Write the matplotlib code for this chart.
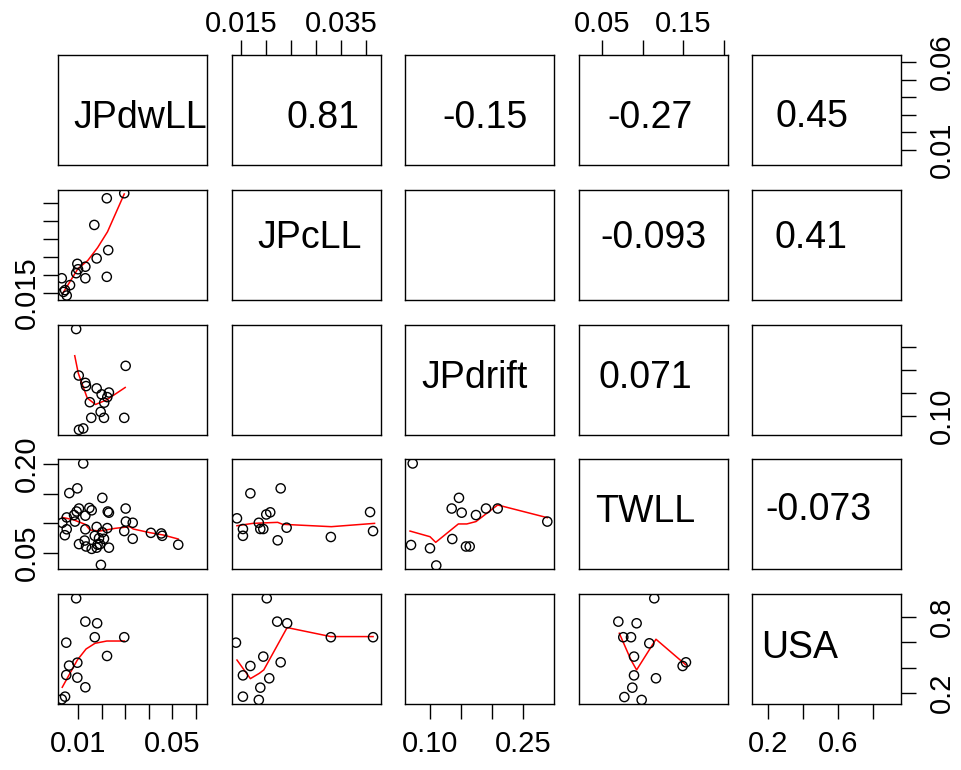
import matplotlib
matplotlib.use("Agg")
import matplotlib.pyplot as plt

plt.rcParams["font.family"] = ["Liberation Sans", "DejaVu Sans"]

VARS = ["JPdwLL", "JPcLL", "JPdrift", "TWLL", "USA"]

# correlation text of the upper panels, (row, col) -> label
COR = {(0, 1): "0.81", (0, 2): "-0.15", (0, 3): "-0.27", (0, 4): "0.45",
       (1, 3): "-0.093", (1, 4): "0.41", (2, 3): "0.071", (3, 4): "-0.073"}

# lower panels: scatter points (x, y) and the red smoother
cll_dwll_x = [0.0296, 0.0222, 0.0169, 0.0228, 0.0179, 0.0097, 0.0131, 0.0100,
              0.0092, 0.0222, 0.0131, 0.0031, 0.0066, 0.0045, 0.0038, 0.0052]
cll_dwll_y = [0.0427, 0.0413, 0.0339, 0.0269, 0.0246, 0.0231, 0.0223, 0.0216,
              0.0205, 0.0195, 0.0191, 0.0191, 0.0172, 0.0158, 0.0153, 0.0143]
cll_dwll_sx = [0.0036, 0.0100, 0.0141, 0.0183, 0.0225, 0.0296]
cll_dwll_sy = [0.0150, 0.0218, 0.0240, 0.0276, 0.0320, 0.0425]

drift_dwll_x = [0.0092, 0.0302, 0.0103, 0.0131, 0.0134, 0.0179, 0.0200, 0.0231, 0.0224,
                0.0150, 0.0211, 0.0196, 0.0156, 0.0210, 0.0296, 0.0104, 0.0122]
drift_dwll_y = [0.289, 0.209, 0.188, 0.172, 0.165, 0.160, 0.147, 0.151, 0.141,
                0.130, 0.129, 0.109, 0.096, 0.096, 0.096, 0.070, 0.073]
drift_dwll_sx = [0.0086, 0.0101, 0.0139, 0.0174, 0.0221, 0.0300]
drift_dwll_sy = [0.231, 0.193, 0.139, 0.125, 0.135, 0.162]

tw_dwll_x = [0.0122, 0.0097, 0.0063, 0.0203, 0.0104, 0.0148, 0.0158, 0.0094, 0.0083,
             0.0131, 0.0226, 0.0231, 0.0302, 0.0033, 0.0052, 0.0087, 0.0179, 0.0131,
             0.0052, 0.0044, 0.0303, 0.0332, 0.0224, 0.0296, 0.0409, 0.0453, 0.0457,
             0.0525, 0.0203, 0.0171, 0.0189, 0.0210, 0.0332, 0.0104, 0.0134, 0.0158,
             0.0183, 0.0193, 0.0231, 0.0179, 0.0197, 0.0128]
tw_dwll_y = [0.201, 0.159, 0.151, 0.143, 0.125, 0.126, 0.122, 0.120, 0.114,
             0.113, 0.120, 0.118, 0.125, 0.101, 0.110, 0.103, 0.094, 0.090,
             0.090, 0.080, 0.103, 0.101, 0.092, 0.087, 0.084, 0.083, 0.079,
             0.064, 0.085, 0.079, 0.075, 0.074, 0.074, 0.065, 0.061, 0.057,
             0.064, 0.065, 0.059, 0.059, 0.030, 0.071]
tw_dwll_sx = [0.0033, 0.0052, 0.0083, 0.0108, 0.0131, 0.0151, 0.0193, 0.0257,
              0.0320, 0.0334, 0.0405, 0.0461, 0.0525]
tw_dwll_sy = [0.110, 0.1085, 0.1057, 0.1017, 0.0983, 0.0888, 0.0871, 0.0916,
              0.0944, 0.0905, 0.0843, 0.0804, 0.0736]

usa_dwll_x = [0.0092, 0.0131, 0.0181, 0.0171, 0.0296, 0.0050, 0.0223,
              0.0097, 0.0062, 0.0050, 0.0097, 0.0131, 0.0045, 0.0031]
usa_dwll_y = [0.947, 0.763, 0.750, 0.640, 0.640, 0.597, 0.492,
              0.439, 0.416, 0.342, 0.321, 0.245, 0.171, 0.150]
usa_dwll_sx = [0.0033, 0.0097, 0.0134, 0.0172, 0.0222, 0.0296]
usa_dwll_sy = [0.245, 0.460, 0.547, 0.592, 0.610, 0.610]

tw_cll_x = [0.0141, 0.0168, 0.0229, 0.0200, 0.0208, 0.0185, 0.0153, 0.0153,
            0.0188, 0.0194, 0.0241, 0.0223, 0.0330, 0.0409, 0.0415]
tw_cll_y = [0.1085, 0.1506, 0.159, 0.115, 0.1186, 0.101, 0.0905, 0.079,
            0.0905, 0.0905, 0.0927, 0.0714, 0.077, 0.119, 0.087]
tw_cll_sx = [0.0141, 0.0173, 0.0223, 0.0233, 0.0331, 0.0418]
tw_cll_sy = [0.096, 0.100, 0.1017, 0.0984, 0.0944, 0.100]

usa_cll_x = [0.0201, 0.0222, 0.0242, 0.0330, 0.0415, 0.0139, 0.0194,
             0.0229, 0.0168, 0.0153, 0.0206, 0.0188, 0.0153, 0.0185]
usa_cll_y = [0.947, 0.763, 0.750, 0.640, 0.640, 0.597, 0.487,
             0.442, 0.413, 0.339, 0.316, 0.242, 0.171, 0.145]
usa_cll_sx = [0.0141, 0.0168, 0.0186, 0.0195, 0.0242, 0.0330, 0.0415]
usa_cll_sy = [0.460, 0.313, 0.355, 0.382, 0.716, 0.645, 0.645]

tw_drift_x = [0.0718, 0.1464, 0.1347, 0.1508, 0.1738, 0.1900, 0.2088,
              0.2888, 0.0691, 0.0997, 0.1356, 0.1577, 0.1637, 0.1098]
tw_drift_y = [0.201, 0.143, 0.125, 0.118, 0.114, 0.125, 0.125,
              0.103, 0.0635, 0.058, 0.0736, 0.061, 0.061, 0.029]
tw_drift_sx = [0.0675, 0.0997, 0.1089, 0.1454, 0.1590, 0.1738, 0.2088, 0.2888]
tw_drift_sy = [0.087, 0.0775, 0.068, 0.099, 0.099, 0.103, 0.131, 0.1096]

usa_tw_x = [0.1143, 0.0701, 0.0926, 0.0762, 0.0857, 0.1082, 0.0894,
            0.1492, 0.1533, 0.0894, 0.1164, 0.0873, 0.0775, 0.0988]
usa_tw_y = [0.947, 0.763, 0.750, 0.640, 0.640, 0.592, 0.487,
            0.413, 0.442, 0.339, 0.316, 0.242, 0.168, 0.145]
usa_tw_sx = [0.0713, 0.0857, 0.0926, 0.1164, 0.1533]
usa_tw_sy = [0.671, 0.460, 0.382, 0.624, 0.421]

LOWER = {
    (1, 0): (cll_dwll_x, cll_dwll_y, cll_dwll_sx, cll_dwll_sy),
    (2, 0): (drift_dwll_x, drift_dwll_y, drift_dwll_sx, drift_dwll_sy),
    (3, 0): (tw_dwll_x, tw_dwll_y, tw_dwll_sx, tw_dwll_sy),
    (4, 0): (usa_dwll_x, usa_dwll_y, usa_dwll_sx, usa_dwll_sy),
    (3, 1): (tw_cll_x, tw_cll_y, tw_cll_sx, tw_cll_sy),
    (4, 1): (usa_cll_x, usa_cll_y, usa_cll_sx, usa_cll_sy),
    (3, 2): (tw_drift_x, tw_drift_y, tw_drift_sx, tw_drift_sy),
    (4, 3): (usa_tw_x, usa_tw_y, usa_tw_sx, usa_tw_sy),
}

# axis ticks and the labels R kept (others dropped for overlap)
TICKS = {
    "JPdwLL": [0.01, 0.02, 0.03, 0.04, 0.05, 0.06],
    "JPcLL": [0.015, 0.020, 0.025, 0.030, 0.035, 0.040],
    "JPdrift": [0.10, 0.15, 0.20, 0.25],
    "TWLL": [0.05, 0.10, 0.15, 0.20],
    "USA": [0.2, 0.4, 0.6, 0.8],
}
XLAB = {
    "JPdwLL": ["0.01", "", "", "", "0.05", ""],
    "JPcLL": ["0.015", "", "", "", "0.035", ""],
    "JPdrift": ["0.10", "", "", "0.25"],
    "TWLL": ["0.05", "", "0.15", ""],
    "USA": ["0.2", "", "0.6", ""],
}
YLAB = {
    "JPdwLL": ["0.01", "", "", "", "", "0.06"],
    "JPcLL": ["0.015", "", "", "", "", ""],
    "JPdrift": ["0.10", "", "", ""],
    "TWLL": ["0.05", "", "", "0.20"],
    "USA": ["0.2", "", "", "0.8"],
}
XLIM = {"JPdwLL": (0.0015, 0.0647), "JPcLL": (0.0130, 0.0430),
        "JPdrift": (0.0594, 0.2996), "TWLL": (0.0211, 0.2044), "USA": (0.1086, 0.960)}
YLIM = {"JPdwLL": (0.0018, 0.0640), "JPcLL": (0.0132, 0.0436),
        "JPdrift": (0.0598, 0.2978), "TWLL": (0.0239, 0.2085), "USA": (0.117, 0.981)}

# text placement inside the diagonal / upper panels (axes fraction)
TXT_POS = {
    (0, 0): (0.55, 0.425), (0, 1): (0.614, 0.425), (0, 2): (0.537, 0.425),
    (0, 3): (0.48, 0.425), (0, 4): (0.403, 0.43),
    (1, 1): (0.527, 0.56), (1, 3): (0.50, 0.56), (1, 4): (0.396, 0.56),
    (2, 2): (0.47, 0.516), (2, 3): (0.446, 0.516),
    (3, 3): (0.446, 0.516), (3, 4): (0.443, 0.534),
    (4, 4): (0.322, 0.507),
}

W, H = 961, 770
COL_X = [58, 231.5, 405, 578.5, 752]
ROW_Y = [55, 190, 325, 459, 594]
PW, PH = 149, 109.5

fig = plt.figure(figsize=(W / 100, H / 100), dpi=100)

for i, yv in enumerate(VARS):
    for j, xv in enumerate(VARS):
        ax = fig.add_axes([COL_X[j] / W, 1 - (ROW_Y[i] + PH) / H, PW / W, PH / H])
        ax.set_xlim(XLIM[xv])
        ax.set_ylim(YLIM[yv])
        for s in ax.spines.values():
            s.set_linewidth(1.0)
        ax.tick_params(bottom=False, left=False, labelbottom=False, labelleft=False,
                       length=11, width=1.0, labelsize=21)

        if (i, j) in LOWER:
            x, y, sx, sy = LOWER[(i, j)]
            ax.scatter(x, y, s=44, facecolors="none", edgecolors="black", linewidths=1.0, zorder=3)
            ax.plot(sx, sy, color="red", lw=1.1, zorder=2)
        txt = VARS[i] if i == j else COR.get((i, j))
        if txt and (i, j) in TXT_POS:
            fx, fy = TXT_POS[(i, j)]
            ax.text(fx, fy, txt, transform=ax.transAxes, fontsize=27,
                    ha="center", va="center")

        # R pairs(): alternating axes around the outside
        if i == 4 and j % 2 == 0:
            ax.set_xticks(TICKS[xv], XLAB[xv])
            ax.tick_params(bottom=True, labelbottom=True, pad=8)
        if i == 0 and j % 2 == 1:
            ax.set_xticks(TICKS[xv], XLAB[xv])
            ax.xaxis.set_ticks_position("top")
            ax.tick_params(top=True, labeltop=True, bottom=False, labelbottom=False, pad=1)
        if j == 0 and i % 2 == 1:
            ax.set_yticks(TICKS[yv], YLAB[yv])
            ax.tick_params(left=True, labelleft=True, pad=1)
            for lab in ax.get_yticklabels():
                lab.set_rotation(90)
                lab.set_va("center")
        if j == 4 and i % 2 == 0:
            ax.set_yticks(TICKS[yv], YLAB[yv])
            ax.yaxis.set_ticks_position("right")
            ax.tick_params(right=True, labelright=True, left=False, labelleft=False, pad=8)
            for lab in ax.get_yticklabels():
                lab.set_rotation(90)
                lab.set_va("center")

fig.savefig("out.png", dpi=100)
